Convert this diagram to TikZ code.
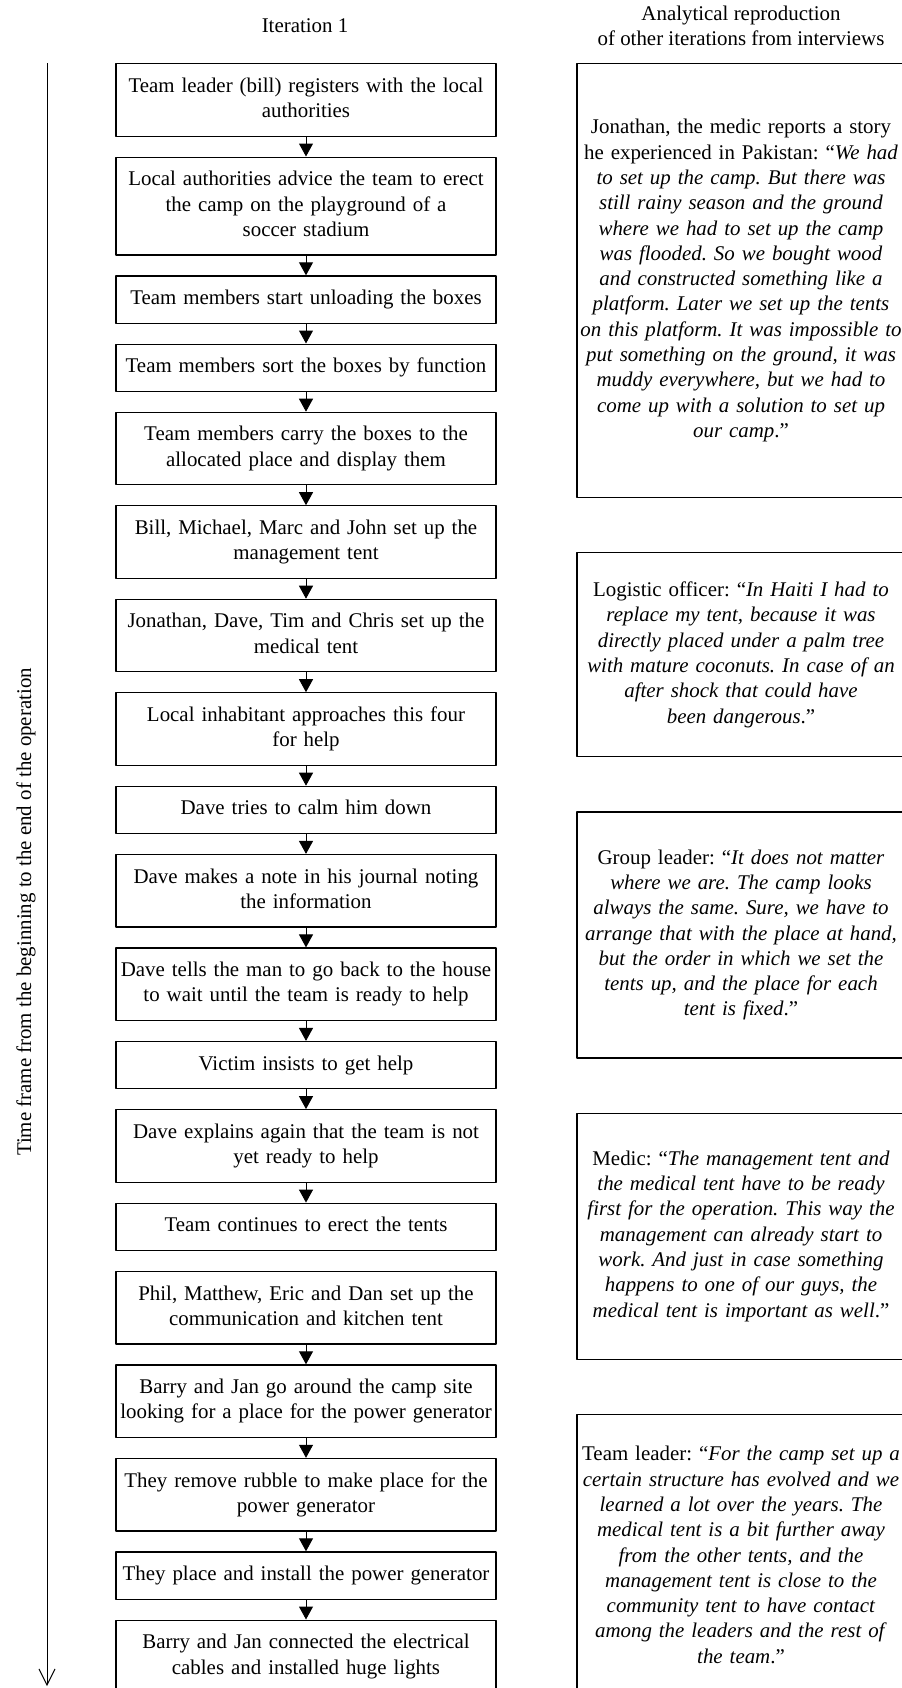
\documentclass[tikz,border=0pt]{standalone}
\usepackage{fontspec}
\setmainfont{Liberation Serif}
\frenchspacing
\usetikzlibrary{positioning,arrows.meta}
\tikzset{
	stepbox/.style={draw,line width=.6pt,text width=200pt,inner xsep=-5pt,inner ysep=5.475pt,align=center,
		execute at begin node=\strut,execute at end node=\strut},
	quotebox/.style={draw,line width=.6pt,text width=170pt,inner xsep=-3pt,align=center,minimum height=#1},
}
\begin{document}
\begin{tikzpicture}[font=\fontsize{10.45pt}{12.65pt}\selectfont,line join=round,
		>={Triangle[length=6.5pt,width=7pt]},node distance=9.9pt]
				\useasboundingbox (0,0) rectangle (450.5pt,-844pt);
				\path 
				(23.5pt,-31.5pt)coordinate(tA) 
				(23.5pt,-843pt)coordinate(tB) 
				;
				\node (iter) at (152.5pt,-13pt) {Iteration 1};
				\node[align=center] (other) at (370.5pt,-13pt) {Analytical reproduction\\of other iterations from interviews};
				\node[stepbox,anchor=north] (s1) at (153pt,-31.5pt) {Team leader (bill) registers with the local\\authorities};
				\node[stepbox,below=of s1] (s2) {Local authorities advice the team to erect\\the camp on the playground of a\\soccer stadium};
				\node[stepbox,below=of s2] (s3) {Team members start unloading the boxes};
				\node[stepbox,below=of s3] (s4) {Team members sort the boxes by function};
				\node[stepbox,below=of s4] (s5) {Team members carry the boxes to the\\allocated place and display them};
				\node[stepbox,below=of s5] (s6) {Bill, Michael, Marc and John set up the\\management tent};
				\node[stepbox,below=of s6] (s7) {Jonathan, Dave, Tim and Chris set up the\\medical tent};
				\node[stepbox,below=of s7] (s8) {Local inhabitant approaches this four\\for help};
				\node[stepbox,below=of s8] (s9) {Dave tries to calm him down};
				\node[stepbox,below=of s9] (s10) {Dave makes a note in his journal noting\\the information};
				\node[stepbox,below=of s10] (s11) {Dave tells the man to go back to the house\\to wait until the team is ready to help};
				\node[stepbox,below=of s11] (s12) {Victim insists to get help};
				\node[stepbox,below=of s12] (s13) {Dave explains again that the team is not\\yet ready to help};
				\node[stepbox,below=of s13] (s14) {Team continues to erect the tents};
				\node[stepbox,below=of s14] (s15) {Phil, Matthew, Eric and Dan set up the\\communication and kitchen tent};
				\node[stepbox,below=of s15] (s16) {Barry and Jan go around the camp site\\looking for a place for the power generator};
				\node[stepbox,below=of s16] (s17) {They remove rubble to make place for the\\power generator};
				\node[stepbox,below=of s17] (s18) {They place and install the power generator};
				\node[stepbox,below=of s18] (s19) {Barry and Jan connected the electrical\\cables and installed huge lights};
				\foreach \a/\b in {1/2,2/3,3/4,4/5,5/6,6/7,7/8,8/9,9/10,10/11,11/12,12/13,13/14,15/16,16/17,17/18,18/19}
					\draw[->,line width=.5pt] (s\a)--(s\b);
				\node[quotebox=217pt,anchor=north] (qa) at (370.5pt,-31.5pt) {Jonathan, the medic reports a story\\he experienced in Pakistan: ``\textit{We had}\\\textit{to set up the camp. But there was}\\\textit{still rainy season and the ground}\\\textit{where we had to set up the camp}\\\textit{was flooded. So we bought wood}\\\textit{and constructed something like a}\\\textit{platform. Later we set up the tents}\\\textit{on this platform. It was impossible to}\\\textit{put something on the ground, it was}\\\textit{muddy everywhere, but we had to}\\\textit{come up with a solution to set up}\\\textit{our camp}.''};
				\node[quotebox=102pt,below=27pt of qa] (qb) {Logistic officer: ``\textit{In Haiti I had to}\\\textit{replace my tent, because it was}\\\textit{directly placed under a palm tree}\\\textit{with mature coconuts. In case of an}\\\textit{after shock that could have}\\\textit{been dangerous}.''};
				\node[quotebox=123pt,below=27pt of qb] (qc) {Group leader: ``\textit{It does not matter}\\\textit{where we are. The camp looks}\\\textit{always the same. Sure, we have to}\\\textit{arrange that with the place at hand,}\\\textit{but the order in which we set the}\\\textit{tents up, and the place for each}\\\textit{tent is fixed}.''};
				\node[quotebox=123pt,below=27pt of qc] (qd) {Medic: ``\textit{The management tent and}\\\textit{the medical tent have to be ready}\\\textit{first for the operation. This way the}\\\textit{management can already start to}\\\textit{work. And just in case something}\\\textit{happens to one of our guys, the}\\\textit{medical tent is important as well}.''};
				\node[quotebox=140.5pt,below=27pt of qd] (qe) {Team leader: ``\textit{For the camp set up a}\\\textit{certain structure has evolved and we}\\\textit{learned a lot over the years. The}\\\textit{medical tent is a bit further away}\\\textit{from the other tents, and the}\\\textit{management tent is close to the}\\\textit{community tent to have contact}\\\textit{among the leaders and the rest of}\\\textit{the team}.''};
				\draw[-{Straight Barb[length=8pt,width=8pt]},line width=.5pt] (tA)--(tB);
				\node[rotate=90] (axis) at (13pt,-456pt) {Time frame from the beginning to the end of the operation};
			\end{tikzpicture}
\end{document}
